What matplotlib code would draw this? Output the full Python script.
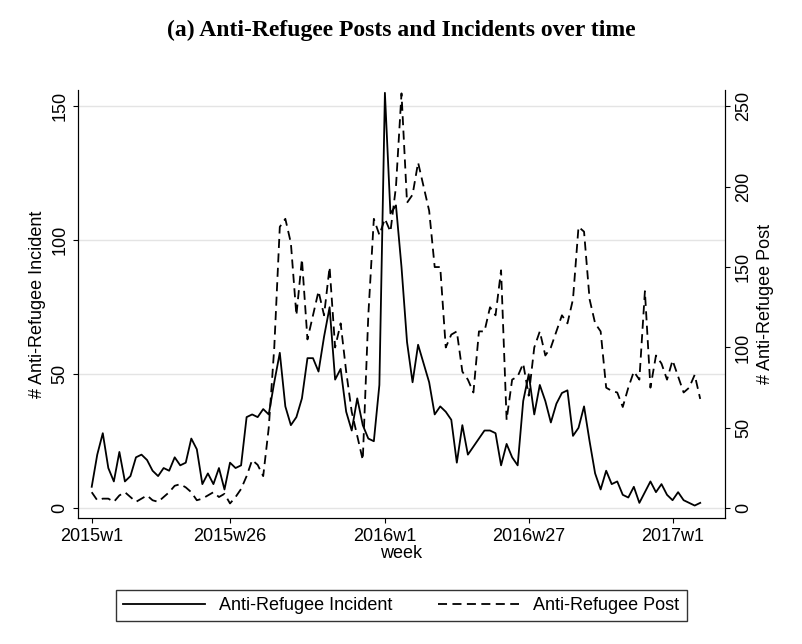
import numpy as np
import matplotlib
matplotlib.use("Agg")
from matplotlib import pyplot as plt

incident = [8, 20, 28, 15, 10, 21, 10, 12, 19, 20,
            18, 14, 12, 15, 14, 19, 16, 17, 26, 22,
            9, 13, 9, 15, 7, 17, 15, 16, 34, 35,
            34, 37, 35, 47, 58, 38, 31, 34, 41, 56,
            56, 51, 64, 75, 48, 52, 36, 29, 41, 31,
            26, 25, 46,
            155, 110, 113, 90, 62, 47, 61, 54, 47, 35,
            38, 36, 33, 17, 31, 20, 23, 26, 29, 29,
            28, 16, 24, 19, 16, 40, 50, 35, 46, 40,
            32, 39, 43, 44, 27, 30, 38, 25, 13, 7,
            14, 9, 10, 5, 4, 8, 2, 6, 10, 6,
            9, 5, 3, 6, 3, 2, 1, 2]
posts = [10, 5, 6, 6, 4, 8, 10, 7, 4, 6,
         8, 5, 4, 7, 10, 14, 15, 13, 10, 5,
         6, 8, 10, 7, 9, 3, 7, 12, 20, 30,
         27, 20, 50, 100, 175, 180, 165, 120, 155, 105,
         120, 135, 120, 150, 100, 115, 85, 60, 45, 30,
         120, 180, 170,
         180, 172, 200, 258, 190, 195, 215, 200, 185, 150,
         150, 100, 108, 110, 85, 80, 72, 110, 110, 125,
         120, 148, 55, 80, 82, 90, 70, 100, 110, 95,
         100, 110, 120, 115, 130, 175, 172, 130, 115, 110,
         75, 73, 72, 63, 75, 85, 80, 135, 75, 95,
         90, 80, 92, 82, 72, 75, 83, 68]
tick_pos = [0, 25, 53, 79, 105]
tick_labels = ["2015w1", "2015w26", "2016w1", "2016w27", "2017w1"]

plt.rcParams["font.family"] = ["Liberation Sans", "DejaVu Sans"]
fig = plt.figure(figsize=(8.03, 6.44), dpi=100)
ax = fig.add_axes([0.097, 0.195, 0.806, 0.665])
x = np.arange(len(incident))
l1, = ax.plot(x, incident, color="black", lw=1.3, label="Anti-Refugee Incident")
ax.set_xlim(-2.5, 114.5)
ax.set_ylim(-3.8, 156)
ax.set_yticks([0, 50, 100, 150])
ax.set_yticklabels(["0", "50", "100", "150"], rotation=90, va="center", fontsize=13)
ax.grid(axis="y", color="#e4e4e4", lw=1)
ax.set_axisbelow(True)
ax.set_xticks(tick_pos)
ax.set_xticklabels(tick_labels, fontsize=13)
ax.set_xlabel("week", fontsize=13, labelpad=0)
ax.set_ylabel("# Anti-Refugee Incident", fontsize=13)
ax.spines["top"].set_visible(False)

ax2 = ax.twinx()
l2, = ax2.plot(x, posts, color="black", lw=1.3, ls=(0, (5, 3)), label="Anti-Refugee Post")
ax2.set_ylim(-6.3, 260)
ax2.set_yticks([0, 50, 100, 150, 200, 250])
ax2.set_yticklabels(["0", "50", "100", "150", "200", "250"], rotation=90, va="center", fontsize=13)
ax2.set_ylabel("# Anti-Refugee Post", fontsize=13)
ax2.spines["top"].set_visible(False)

fig.text(0.5, 0.953, "(a) Anti-Refugee Posts and Incidents over time", ha="center", va="center",
         fontsize=17, fontweight="bold", family="Liberation Serif")
fig.legend(handles=[l1, l2], loc="center", bbox_to_anchor=(0.5, 0.06), ncol=2, fontsize=13,
           frameon=True, fancybox=False, edgecolor="black", handlelength=4.5, columnspacing=2.5)
fig.savefig("out.png", dpi=100)
